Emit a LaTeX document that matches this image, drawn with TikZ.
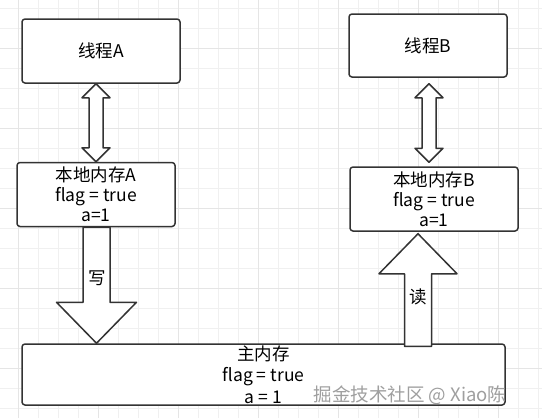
\documentclass[tikz,border=0pt]{standalone}
\usepackage{fontspec}
\setmainfont{Noto Sans CJK SC}
\usepackage{tikz}
\usetikzlibrary{calc}
\definecolor{gridminor}{rgb}{0.94,0.94,0.94}
\definecolor{gridmajor}{rgb}{0.90,0.90,0.90}
\definecolor{edge}{rgb}{0.2,0.2,0.2}
\tikzstyle{every node}=[font=\fontsize{17.5}{20}\selectfont]

\begin{document}
\begin{tikzpicture}[line cap=round,line join=round,x=1pt,y=-1pt,
    box/.style={draw=edge,line width=1.5pt,rounded corners=3pt,fill=white,align=center,inner sep=0pt},
    blockarrow/.style={draw=edge,line width=1.5pt,fill=white}]
            \useasboundingbox (0,0) rectangle (542,418);
            \fill[white] (0,0) rectangle (542,418);
            % grid
            \foreach \gx in {18,38,...,538} \draw[gridminor,line width=0.8pt] (\gx,0) -- (\gx,418);
            \foreach \gy in {8,28,...,408} \draw[gridminor,line width=0.8pt] (0,\gy) -- (542,\gy);
            \foreach \gx in {18,98,...,498} \draw[gridmajor,line width=0.8pt] (\gx,0) -- (\gx,418);
            \foreach \gy in {48,128,...,368} \draw[gridmajor,line width=0.8pt] (0,\gy) -- (542,\gy);
            % boxes
            \node[box,minimum width=158pt,minimum height=64pt] (tA) at (101,51) {线程A};
            \node[box,minimum width=158pt,minimum height=63pt] (tB) at (428,45.5) {线程B};
            \node[box,minimum width=158pt,minimum height=64pt] (mA) at (96,194.5) {本地内存A\\flag = true\\a=1};
            \node[box,minimum width=168pt,minimum height=64pt] (mB) at (434,199) {本地内存B\\flag = true\\a=1};
            \node[box,minimum width=483pt,minimum height=61pt,font=\fontsize{17.5}{21.5}\selectfont] (main) at (263.5,374.5) {主内存\\flag = true\\a = 1};
            % thread <-> local memory
            \draw[blockarrow] let \p1=(tA.south -| mA.north), \p2=(mA.north) in
                (\p1) -- ++(14pt,-14pt) -- ++(-7pt,0pt) -- (\x1+7pt,\y2+14pt) -- ++(7pt,0pt) -- (\p2)
                -- ++(-14pt,14pt) -- ++(7pt,0pt) -- (\x1-7pt,\y1-14pt) -- ++(-7pt,0pt) -- cycle;
            \coordinate (bTop) at ($(tB.south)+(1,6)$);
            \coordinate (bBot) at ($(mB.north)+(-5,-4)$);
            \draw[blockarrow] let \p1=(bTop), \p2=(bTop |- bBot) in
                (\p1) -- ++(14pt,-14pt) -- ++(-7pt,0pt) -- (\x1+7pt,\y2+14pt) -- ++(7pt,0pt) -- (\p2)
                -- ++(-14pt,14pt) -- ++(7pt,0pt) -- (\x1-7pt,\y1-14pt) -- ++(-7pt,0pt) -- cycle;
            % write
            \draw[blockarrow] let \p1=($(mA.south)+(0.5,0)$), \p2=(\p1 |- main.north) in
                (\x1-13.5pt,\y1) -- (\x1+13.5pt,\y1) -- (\x1+13.5pt,\y2+41pt) -- (\x1+40pt,\y2+41pt)
                -- (\p2) -- (\x1-40pt,\y2+41pt) -- (\x1-13.5pt,\y2+41pt) -- cycle;
            % read
            \coordinate (rTip) at ($(mB.south)+(-16,2)$);
            \draw[blockarrow] let \p1=(rTip), \p2=($(rTip |- main.north)+(0,3)$) in
                (\p1) -- (\x1+39pt,\y1-40pt) -- (\x1+13.5pt,\y1-40pt) -- (\x1+13.5pt,\y2)
                -- (\x1-13.5pt,\y2) -- (\x1-13.5pt,\y1-40pt) -- (\x1-39pt,\y1-40pt) -- cycle;
            \node (write) at (97,278) {写};
            \node (read) at (418,297) {读};
            \node[gray!75,font=\fontsize{18.5}{20}\selectfont] (mark) at (410,395) {掘金技术社区 @ Xiao陈};
\end{tikzpicture}
\end{document}
